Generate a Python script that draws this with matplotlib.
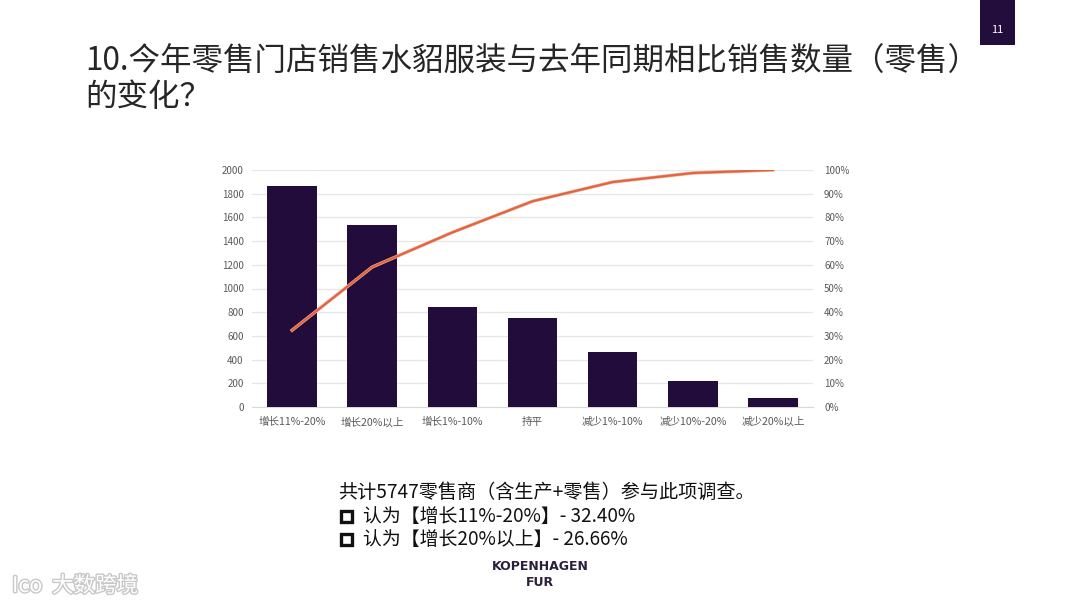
import matplotlib
matplotlib.use("Agg")
import matplotlib.pyplot as plt
import matplotlib.patheffects as pe
from matplotlib.patches import Rectangle
from matplotlib.ticker import FuncFormatter

plt.rcParams['font.family'] = ['Noto Sans CJK SC', 'DejaVu Sans']

categories = ["增长11%-20%", "增长20%以上", "增长1%-10%", "持平", "减少1%-10%", "减少10%-20%", "减少20%以上"]
counts = [1862, 1532, 840, 755, 466, 219, 73]
cumulative_pct = [32.40, 59.06, 73.68, 86.81, 94.92, 98.73, 100.0]

title_line1 = "10.今年零售门店销售水貂服装与去年同期相比销售数量（零售）"
title_line2 = "的变化？"
note_lines = ["共计5747零售商（含生产+零售）参与此项调查。",
              "认为【增长11%-20%】- 32.40%",
              "认为【增长20%以上】- 26.66%"]

W, H = 1080, 608
fig = plt.figure(figsize=(W / 100, H / 100), dpi=100)
fig.patch.set_facecolor("white")

def fx(x):
    return x / W

def fy(y):
    return 1 - y / H

bar_color = "#220c3b"
line_color = "#e2643e"
tick_color = "#595959"

ax = fig.add_axes([fx(252), fy(407), fx(813) - fx(252), fy(170) - fy(407)])
x = range(len(categories))
ax.bar(x, counts, width=0.62, color=bar_color, zorder=3)
ax.set_xlim(-0.5, len(categories) - 0.5)
ax.set_ylim(0, 2000)
ax.set_yticks(range(0, 2001, 200))
ax.set_xticks(list(x))
ax.set_xticklabels(categories)
ax.grid(axis="y", color="#e6e6e6", linewidth=0.9, zorder=0)
for s in ax.spines.values():
    s.set_visible(False)
ax.spines["bottom"].set_visible(True)
ax.spines["bottom"].set_color("#d9d9d9")
ax.tick_params(axis="y", length=0, labelsize=7, colors=tick_color, pad=6)
ax.tick_params(axis="x", length=0, labelsize=7.6, colors=tick_color, pad=7)

ax2 = ax.twinx()
ax2.plot(list(x), cumulative_pct, color=line_color, linewidth=1.5, zorder=4,
         path_effects=[pe.Stroke(linewidth=2.4, foreground="#f0a88f"), pe.Normal()])
ax2.set_ylim(0, 100)
ax2.set_yticks(range(0, 101, 10))
ax2.yaxis.set_major_formatter(FuncFormatter(lambda v, p: f"{int(v)}%"))
for s in ax2.spines.values():
    s.set_visible(False)
ax2.tick_params(axis="y", length=0, labelsize=7, colors=tick_color, pad=8)

# Title
fig.text(fx(85), fy(62), title_line1, fontsize=22.7, color="#262626", va="center", ha="left")
fig.text(fx(85), fy(97), title_line2, fontsize=22.7, color="#262626", va="center", ha="left")

# Page number box
fig.patches.append(Rectangle((fx(980), fy(45)), fx(35), 45 / H, transform=fig.transFigure,
                             facecolor="#230d3d", edgecolor="none"))
fig.text(fx(997.5), fy(30), "11", fontsize=8, color="white", ha="center", va="center")

# Notes
fig.text(fx(338), fy(492), note_lines[0], fontsize=13.8, color="#111111", ha="left", va="center")
for i, yy in enumerate([516, 539]):
    fig.patches.append(Rectangle((fx(341), fy(yy + 5.5)), fx(11), 11 / H, transform=fig.transFigure,
                                 facecolor="none", edgecolor="#111111", linewidth=2.4))
    fig.text(fx(363), fy(yy), note_lines[i + 1], fontsize=13.6, color="#111111", ha="left", va="center")

# Logo
fig.text(fx(540), fy(566), "KOPENHAGEN", fontsize=9, fontweight="bold", color="#2b1f3d",
         ha="center", va="center", family=["DejaVu Sans"])
fig.text(fx(540), fy(583), "FUR", fontsize=9, fontweight="bold", color="#2b1f3d",
         ha="center", va="center", family=["DejaVu Sans"])

# Watermark
fig.text(fx(12), fy(586), "Ico  大数跨境", fontsize=15.5, color="white", ha="left", va="center",
         path_effects=[pe.withStroke(linewidth=2, foreground="#c8c8c8")])

fig.savefig("out.png", dpi=100)
